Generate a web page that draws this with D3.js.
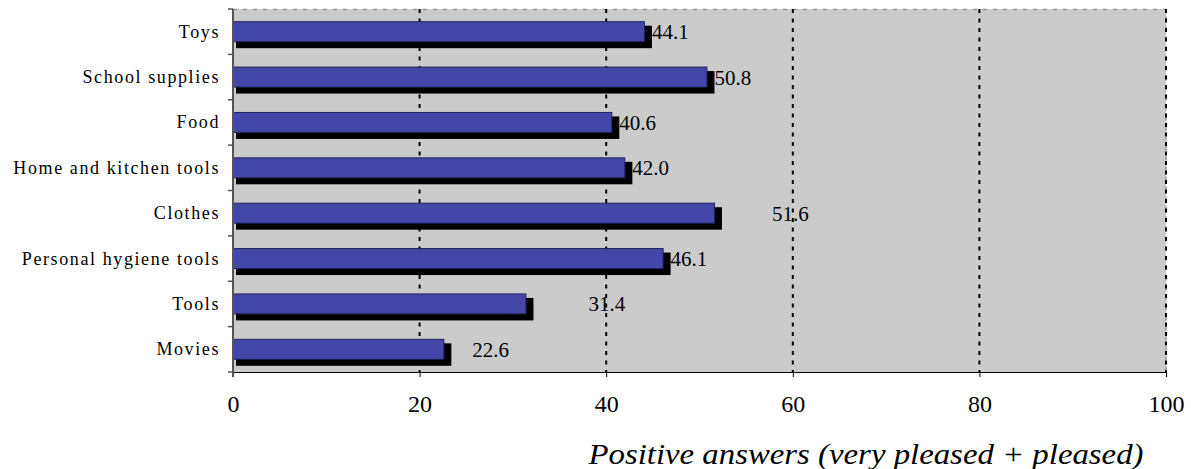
<!DOCTYPE html>
<html>
<head>
<meta charset="utf-8">
<script src="https://cdn.jsdelivr.net/npm/d3@7"></script>
<style>
  html, body { margin: 0; padding: 0; background: #ffffff; }
  svg { display: block; }
</style>
</head>
<body>
<svg id="chart" width="1191" height="469"></svg>
<script>
// Share of positive answers (very pleased + pleased), by product category
const categories = ["Toys", "School supplies", "Food", "Home and kitchen tools",
                    "Clothes", "Personal hygiene tools", "Tools", "Movies"];
const values = [44.1, 50.8, 40.6, 42.0, 51.6, 46.1, 31.4, 22.6];
const xTicks = [0, 20, 40, 60, 80, 100];
const axisTitle = "Positive answers (very pleased + pleased)";

// Extra horizontal shift (px) for value labels that sit away from their bar
const labelShift = { "Clothes": 50, "Tools": 55, "Movies": 21 };

const serif = "'Liberation Serif'";
const svg = d3.select("#chart");
const plot = { left: 233, right: 1166, top: 9, bottom: 372 };

const x = d3.scaleLinear().domain([0, 100]).range([plot.left, plot.right]);
const y = d3.scaleBand().domain(categories)
  .range([plot.top, plot.bottom]).paddingInner(0.56).paddingOuter(0.28);

// plot background
svg.append("rect")
  .attr("x", plot.left).attr("y", plot.top)
  .attr("width", plot.right - plot.left).attr("height", plot.bottom - plot.top)
  .attr("fill", "#cbcbcb");

// frame (top / right) in grey dashes
svg.append("path")
  .attr("d", `M${plot.left},${plot.top + 0.5}H${plot.right}V${plot.bottom}`)
  .attr("fill", "none").attr("stroke", "#999").attr("stroke-width", 1.5)
  .attr("stroke-dasharray", "4,6");

// vertical gridlines
svg.append("g").selectAll("line").data(xTicks.filter(d => d > 0)).join("line")
  .attr("x1", d => x(d)).attr("x2", d => x(d))
  .attr("y1", plot.top).attr("y2", plot.bottom)
  .attr("stroke", "#000").attr("stroke-width", 2)
  .attr("stroke-dasharray", "4,5.5");

// bars: offset black shadow, then blue face
const bars = svg.append("g");
bars.selectAll("rect.shadow").data(categories).join("rect")
  .attr("class", "shadow")
  .attr("x", x(0) + 3)
  .attr("y", d => y(d) + 4)
  .attr("width", (d, i) => x(values[i]) + 7.5 - (x(0) + 3))
  .attr("height", y.bandwidth() + 2.5)
  .attr("fill", "#000");
bars.selectAll("rect.face").data(categories).join("rect")
  .attr("class", "face")
  .attr("x", x(0))
  .attr("y", d => y(d))
  .attr("width", (d, i) => x(values[i]) - x(0))
  .attr("height", y.bandwidth())
  .attr("fill", "#4447a8").attr("stroke", "#22225e").attr("stroke-width", 1);

// value labels
svg.append("g").selectAll("text").data(categories).join("text")
  .attr("x", (d, i) => x(values[i]) + 7.5 + (labelShift[d] || 0))
  .attr("y", d => y(d) + y.bandwidth() / 2 + 7.5)
  .style("font-family", serif).style("font-size", "21px").style("fill", "#000")
  .text((d, i) => values[i].toFixed(1));

// x axis
const xAxis = svg.append("g")
  .attr("transform", `translate(0,${plot.bottom})`)
  .call(d3.axisBottom(x).tickValues(xTicks).tickSize(5).tickPadding(18)
    .tickFormat(d3.format("d")));
xAxis.select(".domain").attr("stroke", "#000").attr("stroke-width", 1.2);
xAxis.selectAll(".tick line").attr("stroke", "#000");
xAxis.selectAll(".tick text")
  .style("font-family", serif).style("font-size", "24px").style("fill", "#000");

// y axis
const yTickPos = d3.range(categories.length + 1).map(i => plot.top + i * y.step());
const yAxis = svg.append("g");
yAxis.append("line")
  .attr("x1", plot.left).attr("x2", plot.left)
  .attr("y1", plot.top).attr("y2", plot.bottom + 5)
  .attr("stroke", "#555").attr("stroke-width", 2);
yAxis.selectAll("line.tick").data(yTickPos).join("line")
  .attr("class", "tick")
  .attr("x1", plot.left - 5).attr("x2", plot.left)
  .attr("y1", d => d).attr("y2", d => d)
  .attr("stroke", "#555").attr("stroke-width", 1.5);
yAxis.selectAll("text").data(categories).join("text")
  .attr("x", 220)
  .attr("y", d => y(d) + y.bandwidth() / 2 + 6)
  .attr("text-anchor", "end")
  .style("font-family", serif).style("font-size", "18px").style("fill", "#000")
  .style("letter-spacing", "1.6px")
  .text(d => d);

// axis title
svg.append("text")
  .attr("x", 866).attr("y", 464)
  .attr("text-anchor", "middle")
  .style("font-family", serif).style("font-size", "30px").style("font-style", "italic")
  .style("fill", "#000")
  .attr("textLength", 555).attr("lengthAdjust", "spacingAndGlyphs")
  .text(axisTitle);
</script>
</body>
</html>
